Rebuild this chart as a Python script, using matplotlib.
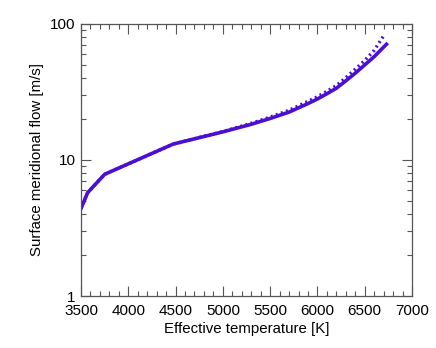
import matplotlib
matplotlib.use("Agg")
import matplotlib.pyplot as plt
from matplotlib.ticker import FixedLocator, MultipleLocator, LogLocator, NullFormatter

plt.rcParams['font.family'] = ['Liberation Sans', 'DejaVu Sans']

# solid curve
teff = [3500, 3570, 3750, 4475, 5000, 5300, 5500, 5700, 5900, 6000, 6100, 6200, 6300, 6400, 6500, 6600, 6730]
flow = [4.4, 5.75, 7.85, 13.1, 16.1, 18.3, 20.2, 22.5, 26.0, 28.1, 30.7, 33.7, 38.2, 43.5, 50.0, 57.5, 71.0]

# dotted curve
teff_dot = [3500, 3570, 3750, 4475, 5000, 5300, 5500, 5700, 5900, 6000, 6100, 6200, 6300, 6400, 6500, 6600, 6710]
flow_dot = [4.4, 5.75, 7.85, 13.1, 16.2, 18.6, 20.7, 23.2, 27.0, 29.2, 32.0, 35.3, 40.3, 46.5, 54.0, 64.0, 84.0]

col = '#4a0fd0'

fig = plt.figure(figsize=(4.36, 3.48), dpi=100)
ax = fig.add_axes([81/436, 1-296/348, 331/436, 272/348])

ax.plot(teff_dot, flow_dot, color=col, lw=2.4, linestyle=(0, (0.6, 1.0)))
ax.plot(teff, flow, color=col, lw=2.6)

ax.set_yscale('log')
ax.set_xlim(3500, 7000)
ax.set_ylim(1, 100)
ax.xaxis.set_major_locator(MultipleLocator(500))
ax.xaxis.set_minor_locator(MultipleLocator(100))
ax.yaxis.set_major_locator(FixedLocator([1, 10, 100]))
ax.yaxis.set_minor_locator(LogLocator(base=10, subs=range(2, 10)))
ax.yaxis.set_minor_formatter(NullFormatter())
ax.set_yticklabels(['1', '10', '100'])

ax.tick_params(which='both', direction='in', top=True, right=True, color='#555555', labelsize=11)
ax.tick_params(which='major', length=7, width=0.8)
ax.tick_params(which='minor', length=3.5, width=0.8)
ax.tick_params(axis='x', which='major', pad=6)
ax.tick_params(axis='y', which='major', pad=4)
for s in ax.spines.values():
    s.set_color('#555555')
    s.set_linewidth(0.9)

ax.set_xlabel('Effective temperature [K]', fontsize=10.8, labelpad=2.5)
ax.set_ylabel('Surface meridional flow [m/s]', fontsize=10.8, labelpad=4)

fig.savefig('out.png', dpi=100)
